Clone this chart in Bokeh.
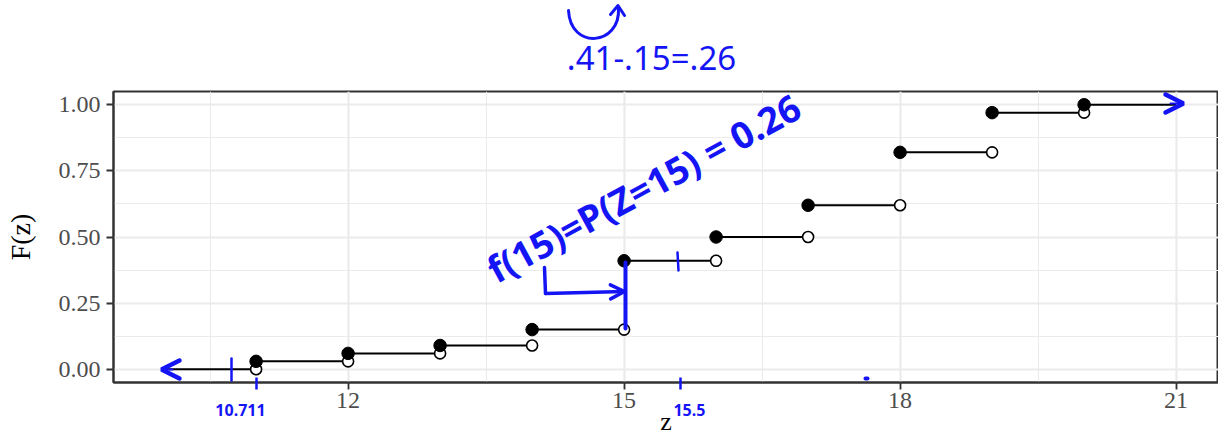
from bokeh.plotting import figure
from bokeh.layouts import column
from bokeh.models import Range1d, FixedTicker, Arrow, OpenHead, Label, NumeralTickFormatter, LinearAxis
from bokeh.core.properties import value
from bokeh.embed import file_html
from bokeh.resources import INLINE

# ---- data ----
z_vals = [11, 12, 13, 14, 15, 16, 17, 18, 19, 20]
cdf_vals = [0.03, 0.06, 0.09, 0.15, 0.41, 0.50, 0.62, 0.82, 0.97, 1.00]
z_lower = 10
z_upper = 21
x_ticks = [12, 15, 18, 21]
x_minor = [10.5, 13.5, 16.5, 19.5]
y_ticks = [0.0, 0.25, 0.50, 0.75, 1.00]
y_minor = [0.125, 0.375, 0.625, 0.875]

# step segments and open (right-limit) circles built from the data
seg_x0 = [z_lower] + z_vals
seg_x1 = z_vals + [z_upper]
seg_y = [0.0] + cdf_vals
open_y = [0.0] + cdf_vals[:-1]

BLUE = "#1414F5"
W, H = 1218, 438
TOP_H = 80                      # strip above the panel holding the handwritten note
LEFT, TOP, FRAME_H = 113, 91, 291
FRAME_W = W - LEFT
PX_PER_Z = 92.0

pad_x = 0.05 * (z_upper - z_lower)
x0 = z_lower - pad_x
x1 = x0 + FRAME_W / PX_PER_Z
y0, y1 = -0.05, 1.05
sy = FRAME_H / (y1 - y0)

def X(px):
    return x0 + (px - LEFT) / PX_PER_Z

def Y(py):
    return y1 - (py - TOP) / sy

# ================= top strip (handwritten subtraction note) =================
t = figure(width=W, height=TOP_H, x_range=Range1d(LEFT, W), y_range=Range1d(TOP_H, 0),
           output_backend="svg", toolbar_location=None, x_axis_type=None, y_axis_type=None,
           min_border=0, min_border_left=0, min_border_right=0, min_border_top=0, min_border_bottom=0)
t.outline_line_color = None
t.grid.visible = False
t.background_fill_color = "white"
t.border_fill_color = "white"
t.bezier(x0=[568], y0=[10], x1=[618], y1=[8], cx0=[570], cy0=[50], cx1=[620], cy1=[45],
         line_color=BLUE, line_width=3, line_cap="round")
t.multi_line(xs=[[610, 617.5, 624]], ys=[[14, 5, 15]], line_color=BLUE, line_width=3,
             line_cap="round", line_join="round")
t.text(x=[651], y=[57], text=[".41-.15=.26"], text_color=BLUE, text_font=value("Noto Sans"),
       text_font_size="33px", text_align="center", text_baseline="middle")

# ================= main panel =================
p = figure(width=W, height=H - TOP_H, x_range=Range1d(x0, x1), y_range=Range1d(y0, y1),
           output_backend="svg", toolbar_location=None, x_axis_location=None,
           min_border_left=LEFT, min_border_right=0, min_border_top=TOP - TOP_H,
           min_border_bottom=H - TOP - FRAME_H, y_axis_label="F(z)")
p.background_fill_color = "white"
p.border_fill_color = "white"
p.outline_line_color = "#333333"
p.outline_line_width = 2

# main x axis; its minor ticks carry the two blue pen ticks under the axis
xax = LinearAxis(axis_label="z", ticker=FixedTicker(ticks=x_ticks, minor_ticks=[11, X(680)]))
p.add_layout(xax, "below")
# second (blue) axis carrying the handwritten numbers under the axis
note_pos = [round(X(240), 2), round(X(689), 2)]
note_txt = ["10.711", "15.5"]
nax = LinearAxis(ticker=FixedTicker(ticks=note_pos, minor_ticks=[]),
                 major_label_overrides=dict(zip(note_pos, note_txt)))
p.add_layout(nax, "below")

for ax in (xax, p.yaxis[0]):
    ax.axis_line_color = "#333333"
    ax.axis_line_width = 2
    ax.major_tick_line_color = "#333333"
    ax.major_tick_line_width = 1.8
    ax.major_tick_in = 0
    ax.major_tick_out = 7
    ax.major_label_text_font = "Liberation Serif"
    ax.major_label_text_font_size = "24px"
    ax.major_label_text_color = "#4D4D4D"
    ax.axis_label_text_font = "Liberation Serif"
    ax.axis_label_text_font_size = "28px"
    ax.axis_label_text_font_style = "normal"
    ax.axis_label_text_color = "black"

xax.axis_label_text_font_size = "26px"
p.yaxis.minor_tick_line_color = None
xax.minor_tick_line_color = BLUE
xax.minor_tick_line_width = 2.5
xax.minor_tick_in = 5
xax.minor_tick_out = 7

nax.axis_line_color = None
nax.major_tick_line_color = None
nax.minor_tick_line_color = None
nax.major_tick_out = 0
nax.major_tick_in = 0
nax.major_label_text_font = "Noto Sans"
nax.major_label_text_font_style = "bold"
nax.major_label_text_font_size = "16px"
nax.major_label_text_color = BLUE
nax.major_label_standoff = -35

p.yaxis.ticker = FixedTicker(ticks=y_ticks, minor_ticks=y_minor)
p.yaxis.formatter = NumeralTickFormatter(format="0.00")
xax.major_label_standoff = 3
xax.axis_label_standoff = -4
p.yaxis.major_label_standoff = 6
p.yaxis.axis_label_standoff = 20

p.xgrid.ticker = FixedTicker(ticks=x_ticks, minor_ticks=x_minor)
for g in (p.xgrid, p.ygrid):
    g.grid_line_color = "#EBEBEB"
    g.grid_line_width = 2.2
    g.minor_grid_line_color = "#EBEBEB"
    g.minor_grid_line_width = 1.1

p.segment(x0=seg_x0, y0=seg_y, x1=seg_x1, y1=seg_y, line_color="black", line_width=2)
p.scatter(x=z_vals, y=open_y, size=11, fill_color="white", line_color="black", line_width=1.6)
p.scatter(x=z_vals, y=cdf_vals, size=12.5, fill_color="black", line_color="black")

# ---- handwritten blue annotations inside the panel ----
def stroke(pts, width=3.0, head=None):
    for i in range(len(pts) - 1):
        (ax_, ay_), (bx_, by_) = pts[i], pts[i + 1]
        end = head if (head is not None and i == len(pts) - 2) else None
        p.add_layout(Arrow(x_start=X(ax_), y_start=Y(ay_), x_end=X(bx_), y_end=Y(by_),
                           line_color=BLUE, line_width=width, line_cap="round", end=end))

def head(size=16, width=4):
    return OpenHead(size=size, line_color=BLUE, line_width=width, line_cap="round")

stroke([(172, 369), (161, 369)], width=2, head=head(18, 4.5))
stroke([(1170, 103), (1183, 103)], width=2, head=head(18, 4.5))
stroke([(231, 358), (231, 380)], width=2.5)
stroke([(677, 252), (678, 270)], width=2.5)
stroke([(625, 262), (625, 328)], width=4)
stroke([(544, 267), (545, 293), (624, 291)], width=3.5, head=head(14, 3.5))
stroke([(865, 378), (867, 378)], width=4)

p.add_layout(Label(x=X(643), y=Y(187), text="f(15)=P(Z=15) = 0.26", text_color=BLUE,
                   text_font="Noto Sans", text_font_size="37px", text_font_style="bold",
                   text_align="center", text_baseline="middle", angle=0.5))

layout = column(t, p, spacing=0)
open("out.html", "w").write(file_html(layout, INLINE))
